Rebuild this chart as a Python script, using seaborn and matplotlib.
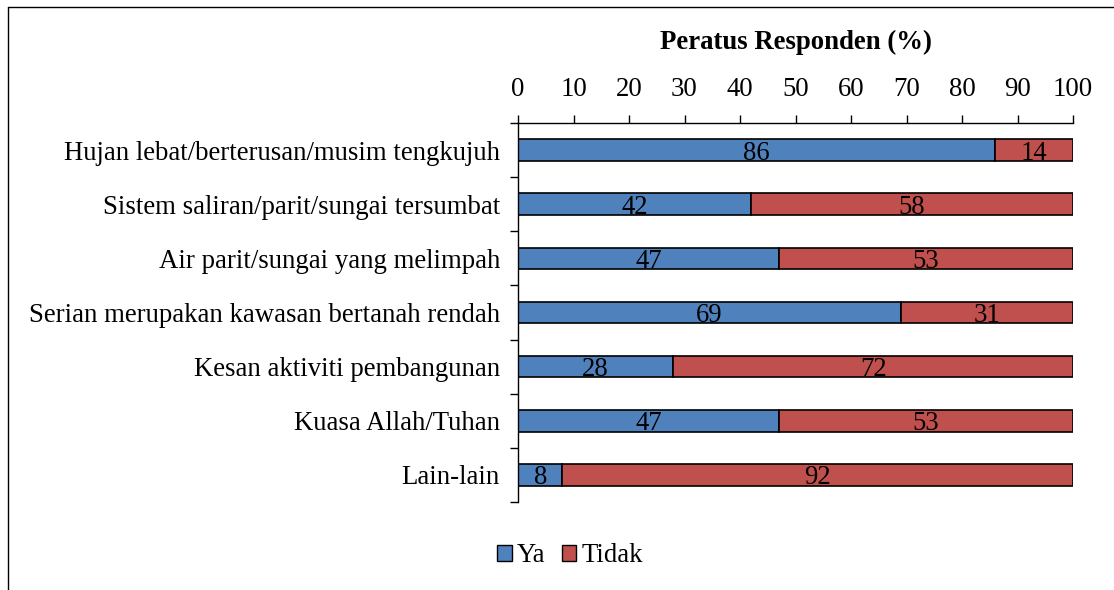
import numpy as np
import pandas as pd
import seaborn as sns
import matplotlib.pyplot as plt
from matplotlib.lines import Line2D
from matplotlib.patches import Patch

categories = [
    "Hujan lebat/berterusan/musim tengkujuh",
    "Sistem saliran/parit/sungai tersumbat",
    "Air parit/sungai yang melimpah",
    "Serian merupakan kawasan bertanah rendah",
    "Kesan aktiviti pembangunan",
    "Kuasa Allah/Tuhan",
    "Lain-lain",
]
ya = [86, 42, 47, 69, 28, 47, 8]
tidak = [14, 58, 53, 31, 72, 53, 92]

blue = "#4F81BD"
red = "#C0504D"
fs = 19.3

sns.set_theme(style="white")
plt.rcParams["font.family"] = ["Liberation Serif", "DejaVu Serif"]
plt.rcParams["font.size"] = fs
plt.rcParams["text.color"] = "black"
plt.rcParams["xtick.color"] = "black"
plt.rcParams["ytick.color"] = "black"

df = pd.DataFrame({"kategori": categories, "Ya": ya, "Tidak": tidak})

fig = plt.figure(figsize=(11.14, 5.90), dpi=100)
ax = fig.add_axes([518 / 1114, 1 - 502 / 590, (1073 - 518) / 1114, (502 - 123) / 590])

# bar Ya (seaborn) dan Tidak disusun di sebelah kanannya
sns.barplot(data=df, x="Ya", y="kategori", orient="h", color=blue,
            width=0.4, edgecolor="black", linewidth=1.2, saturation=1, ax=ax)
pos = np.arange(len(categories))
ax.barh(pos, df["Tidak"], left=df["Ya"], height=0.4, color=red,
        edgecolor="black", linewidth=1.2)

for c in ax.containers:
    texts = ax.bar_label(c, label_type="center", fontsize=fs, color="black")
    for t in texts:
        t.set_verticalalignment("center_baseline")

ax.set_xlim(0, 100)
ax.set_ylim(len(categories) - 0.5, -0.5)
ax.set_xticks(range(0, 101, 10))
ax.xaxis.tick_top()
ax.tick_params(axis="x", direction="out", length=6, width=1, pad=9,
               labelsize=fs, top=True, bottom=False)
ax.set_yticks(pos)
ax.set_yticklabels(categories)
ax.set_yticks(np.arange(-0.5, len(categories), 1), minor=True)
ax.tick_params(axis="y", which="major", length=0, pad=13, labelsize=fs)
ax.tick_params(axis="y", which="minor", direction="out", length=6, width=1, left=True)
ax.set_xlabel("")
ax.set_ylabel("")

for s in ["right", "bottom"]:
    ax.spines[s].set_visible(False)
for s in ["top", "left"]:
    ax.spines[s].set_color("black")
    ax.spines[s].set_linewidth(1)

fig.text((518 + 1073) / 2 / 1114, 1 - 42 / 590, "Peratus Responden (%)",
         ha="center", va="center", fontsize=fs, fontweight="bold")

handles = [Patch(facecolor=blue, edgecolor="black", label="Ya"),
           Patch(facecolor=red, edgecolor="black", label="Tidak")]
fig.legend(handles=handles, loc="center", bbox_to_anchor=(570 / 1114, 1 - 556 / 590),
           ncol=2, frameon=False, fontsize=fs, handlelength=0.55, handleheight=0.55,
           handletextpad=0.2, columnspacing=0.6)

# bingkai carta
fig.add_artist(Line2D([8 / 1114, 8 / 1114], [0, 1 - 7 / 590], color="black", lw=1))
fig.add_artist(Line2D([8 / 1114, 1], [1 - 7 / 590, 1 - 7 / 590], color="black", lw=1))

fig.savefig("out.png", dpi=100)
